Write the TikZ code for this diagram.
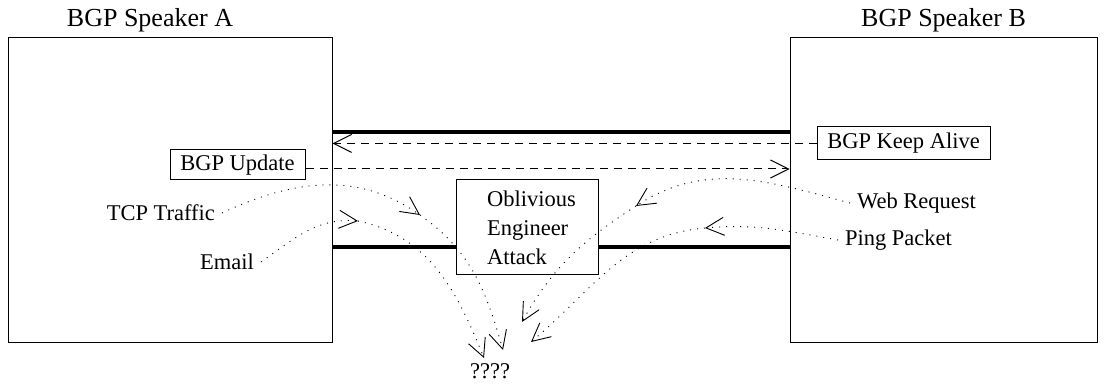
\documentclass[tikz,border=0pt]{standalone}
\usepackage{fontspec}
\setmainfont{Liberation Serif}
\usetikzlibrary{calc}
\usetikzlibrary{positioning}
\usetikzlibrary{arrows.meta}
\tikzset{
	>={Straight Barb[length=9pt,width=9pt]},
	speaker/.style={
		rectangle,
		draw=black, line width=0.5pt,
		minimum height=152pt,
		inner sep=0pt},
	titel/.style={font=\fontsize{13pt}{15pt}\selectfont, inner sep=0pt},
	msgbox/.style={
		rectangle,
		draw=black, line width=0.5pt,
		text centered,
		inner sep=0pt},
	link/.style={draw, line width=2pt},
	bgpmsg/.style={draw, line width=0.5pt, dash pattern=on 4pt off 3pt, ->},
	traffic/.style={draw, line width=0.45pt, dash pattern=on 0.5pt off 3pt, ->},
}

\begin{document}
\begin{tikzpicture}
		[x=0.5pt, y=0.5pt, font=\fontsize{11.25pt}{14.5pt}\selectfont]
		\useasboundingbox (0,0) rectangle (1106,385);
		% the two speakers
		\node[speaker, minimum width=162pt] (spkA) at (170,195) {};
		\node[speaker, minimum width=153.5pt] (spkB) at (943.5,195) {};
		\node[titel, anchor=base] (titA) at ([xshift=-10pt,yshift=5.5pt]spkA.north) {BGP Speaker A};
		\node[titel, anchor=base] (titB) at ([yshift=5.5pt]spkB.north) {BGP Speaker B};
		
		\node[msgbox, minimum width=71pt, minimum height=47.5pt, align=left] (oea) at (527,157.5) {\raisebox{-2pt}{\parbox{40pt}{Oblivious\\Engineer\\Attack}}};
		\node[msgbox, minimum width=67.5pt, minimum height=15pt] (update) at (237.5,220) {BGP Update};
		\node[msgbox, minimum width=86.5pt, minimum height=16.5pt] (keep) at (903.5,241.5) {BGP Keep Alive};
		
		\node[anchor=east] (tcp) at (222,172) {TCP Traffic};
		\node[anchor=east] (email) at (261,123) {Email};
		\node[anchor=west] (web) at (850,182) {Web Request};
		\node[anchor=west] (ping) at (838,145) {Ping Packet};
		\node[inner sep=0pt] (lost) at (490,14) {????};
		
		% the link
		\coordinate (linktop) at (0,253);
		\coordinate (linkbot) at (0,138);
		\draw[link] (spkA.east |- linktop) -- (spkB.west |- linktop);
		\draw[link] (spkA.east |- linkbot) -- (oea.west |- linkbot);
		\draw[link] (oea.east |- linkbot) -- (spkB.west |- linkbot);
		
		\coordinate (updout) at ([yshift=-2pt]update.east);
		\draw[bgpmsg] (keep.west) -- (spkA.east |- keep.west);
		\draw[bgpmsg] (updout) -- (spkB.west |- updout);
		
		% traffic that never arrives
		\coordinate (tcpmid) at (420,170);
		\coordinate (emailmid) at (358,164);
		\coordinate (webmid) at (636,179);
		\coordinate (pingmid) at (705,157);
		\coordinate (tcpend) at (503,35);
		\coordinate (emailend) at (484,27);
		\coordinate (webend) at (522,63);
		\coordinate (pingend) at (531,43);
		
		\draw[traffic] (tcp.east) to[out=25, in=145] (tcpmid);
		\draw[traffic] (tcpmid) to[out=-35, in=106] (tcpend);
		\draw[traffic] (email.east) to[out=35, in=175] (emailmid);
		\draw[traffic] (emailmid) to[out=-12, in=112] (emailend);
		\draw[traffic] (web.west) to[out=165, in=33] (webmid);
		\draw[traffic] (webmid) to[out=-147, in=61] (webend);
		\draw[traffic] (ping.west) to[out=170, in=5] (pingmid);
		\draw[traffic] (pingmid) to[out=-175, in=40] (pingend);
		
		\end{tikzpicture}
\end{document}
